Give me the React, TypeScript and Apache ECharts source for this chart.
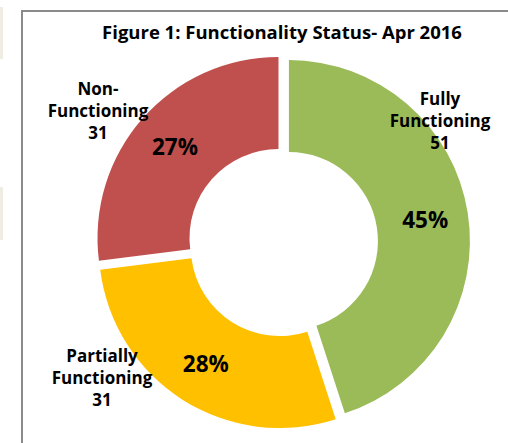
import React, { useEffect, useRef } from "react";
import * as echarts from "echarts";

const categories = ["Fully Functioning", "Partially Functioning", "Non-Functioning"];
const nameLabels = ["Fully\nFunctioning", "Partially\nFunctioning", "Non-\nFunctioning"];
const counts = [51, 31, 31];
const percents = [45, 28, 27];
const colors = ["#9BBB59", "#FFC000", "#C0504D"];
const titleText = "Figure 1: Functionality Status- Apr 2016";

// text positions for labels (not marks)
const nameLabelPos = [
  [440, 120],
  [102, 377],
  [98, 110],
];
const pctLabelPos = [
  [425, 214],
  [204, 356],
  [187, 151],
];

const FONT = "'Open Sans', 'Noto Sans', sans-serif";

export default function App() {
  const ref = useRef<HTMLDivElement>(null);
  useEffect(() => {
    if (!ref.current) return;
    const chart = echarts.init(ref.current, undefined, { renderer: "svg" });
    const baseData = categories.map((c, i) => ({
      name: c,
      value: percents[i],
      selected: true,
      itemStyle: { color: colors[i] },
    }));
    chart.setOption({
      animation: false,
      backgroundColor: "#ffffff",
      title: {
        text: titleText,
        left: 277,
        top: 17,
        textAlign: "center",
        textStyle: { fontFamily: FONT, fontWeight: "bold", fontSize: 18.5, color: "#000" },
      },
      graphic: [
        { type: "rect", shape: { x: 0, y: 7, width: 3, height: 52 }, style: { fill: "#EFECE3" } },
        { type: "rect", shape: { x: 0, y: 187, width: 3, height: 53 }, style: { fill: "#EFECE3" } },
        { type: "polyline", shape: { points: [[22, 443], [22, 11], [508, 11]] }, style: { stroke: "#8a8a8a", lineWidth: 2, fill: "none" } },
      ],
      series: [
        {
          type: "pie",
          center: [283, 242],
          radius: [89, 181],
          startAngle: 90,
          clockwise: true,
          selectedMode: "multiple",
          selectedOffset: 6,
          silent: true,
          data: baseData,
          label: {
            show: true,
            position: "inside",
            formatter: (p: any) => percents[p.dataIndex] + "%",
            fontFamily: FONT,
            fontWeight: "bold",
            fontSize: 22.5,
            color: "#000",
          },
          labelLayout: (p: any) => ({
            x: pctLabelPos[p.dataIndex][0],
            y: pctLabelPos[p.dataIndex][1],
            align: "center",
            verticalAlign: "middle",
          }),
          labelLine: { show: false },
          emphasis: { disabled: true },
        },
        {
          type: "pie",
          center: [283, 242],
          radius: [89, 181],
          startAngle: 90,
          clockwise: true,
          silent: true,
          data: categories.map((c, i) => ({
            name: c,
            value: percents[i],
            itemStyle: { color: "rgba(0,0,0,0)" },
          })),
          label: {
            show: true,
            position: "inside",
            formatter: (p: any) => nameLabels[p.dataIndex] + "\n" + counts[p.dataIndex],
            fontFamily: FONT,
            fontWeight: "bold",
            fontSize: 17,
            lineHeight: 22,
            align: "center",
            color: "#000",
          },
          labelLayout: (p: any) => ({
            x: nameLabelPos[p.dataIndex][0],
            y: nameLabelPos[p.dataIndex][1],
            align: "center",
            verticalAlign: "middle",
          }),
          labelLine: { show: false },
          emphasis: { disabled: true },
          z: 3,
        },
      ],
    });
    return () => chart.dispose();
  }, []);
  return (
    <div
      ref={ref}
      style={{ position: "fixed", left: 0, top: 0, width: 508, height: 443 }}
    />
  );
}
